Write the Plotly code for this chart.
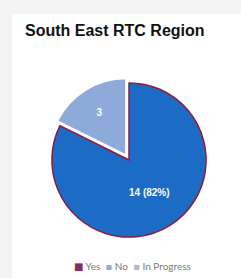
import plotly.graph_objects as go

categories = ["Yes", "No", "In Progress"]
values = [14, 3, 0]
slice_colors = ["#1c6cc6", "#8eaadb", "#a9b7d0"]
legend_colors = ["#8a2a5e", "#8eaadb", "#a9b7d0"]
label_templates = ["%{value} (%{percent:.0%})", "%{value}", ""]
title_text = "South East RTC Region"

W, H = 241, 278

fig = go.Figure()
fig.add_trace(go.Pie(
    labels=categories,
    values=values,
    sort=False,
    direction="clockwise",
    rotation=0,
    pull=[0, 0.07, 0],
    marker=dict(colors=slice_colors,
                line=dict(color=["#8b1a40", "#ffffff", "#ffffff"], width=[1.5, 2, 0])),
    texttemplate=label_templates,
    textposition="inside",
    insidetextorientation="horizontal",
    textfont=dict(family="Liberation Sans", size=10, color="white", weight="bold"),
    hoverinfo="label+value+percent",
    showlegend=False,
    domain=dict(x=[46.5 / W, 211.5 / W], y=[(H - 242.5) / H, (H - 77.5) / H]),
))

marker_glyphs = ["■", "▪", "▪"]
legend_html = "  ".join(
    f"<span style='color:{c};font-family:DejaVu Sans'>{g}</span> {lab}"
    for lab, c, g in zip(categories, legend_colors, marker_glyphs)
)

fig.update_layout(
    width=W, height=H,
    margin=dict(l=0, r=0, t=0, b=0),
    paper_bgcolor="white",
    plot_bgcolor="white",
    title=dict(text="<b>" + title_text + "</b>", x=25 / W, xanchor="left", xref="paper",
               y=1 - 30 / H, yanchor="middle", yref="container",
               font=dict(family="Liberation Sans", size=16, color="#111111")),
    shapes=[
        dict(type="rect", xref="paper", yref="paper", x0=0, x1=12 / W, y0=0, y1=1,
             fillcolor="#f3f3f3", line=dict(width=0), layer="below"),
        dict(type="rect", xref="paper", yref="paper", x0=0, x1=1, y0=(H - 14) / H, y1=1,
             fillcolor="#f3f3f3", line=dict(width=0), layer="below"),
    ],
    annotations=[dict(text=legend_html, xref="paper", yref="paper", x=132 / W, y=(H - 266) / H,
                      xanchor="center", yanchor="middle", showarrow=False,
                      font=dict(family="Lato", size=10, color="#7a7a7a"))],
)

fig.write_html(
    "out.html",
    config={"displayModeBar": False},
    post_script="document.body.style.margin='0';document.body.style.overflow='hidden';",
)
